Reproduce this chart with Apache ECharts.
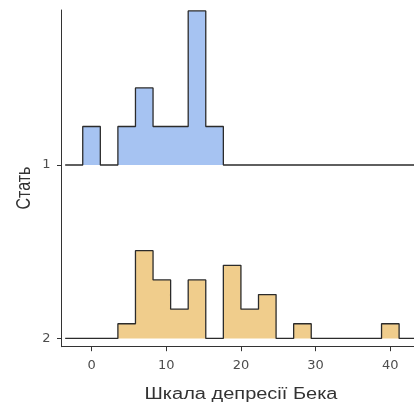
<!DOCTYPE html>
<html>
<head>
<meta charset="utf-8">
<script src="https://cdn.jsdelivr.net/npm/echarts@6/dist/echarts.min.js"></script>
<style>html,body{margin:0;padding:0;background:#fff}#c{width:414px;height:410px}</style>
</head>
<body>
<div id="c"></div>
<script>
// Data
const groups = ['1', '2'];
const binWidth = 40 / 17;              // 18 bins spanning 0..40 (centres)
const counts1 = [1,0,1,2,1,1,4,1,0,0,0,0,0,0,0,0,0,0];
const counts2 = [0,0,1,6,4,2,4,0,5,2,3,0,1,0,0,0,0,1];
const xTicks = [0, 10, 20, 30, 40];
const yTicks = [1, 2];
const fills = ['#a6c3f2', '#f0cd8c'];
const heightScale = 5.75;

function outline(counts, base) {
  const n = counts.reduce((a, b) => a + b, 0);
  const padded = [0].concat(counts, [0]);
  const pts = [];
  for (let i = 0; i < padded.length; i++) {
    const k = i - 1;
    const left = (k - 0.5) * binWidth, right = (k + 0.5) * binWidth;
    const h = padded[i] / (n * binWidth) * heightScale;
    pts.push([left, base - h]);
    pts.push([right, base - h]);
  }
  return pts;
}

const allCounts = [counts1, counts2];
const series = groups.map((g, i) => ({
  type: 'line',
  name: g,
  data: outline(allCounts[i], i + 1),
  symbol: 'none',
  lineStyle: { color: '#2b2b2b', width: 1.3 },
  areaStyle: { color: fills[i], opacity: 1, origin: i + 1 },
  clip: true,
  silent: true
}));

const chart = echarts.init(document.getElementById('c'), null, { renderer: 'canvas' });
chart.setOption({
  animation: false,
  grid: { left: 61.5, right: 0, top: 10, bottom: 63.3 },
  xAxis: {
    type: 'value', min: -4.02, max: 43.17,
    axisLine: { show: true, onZero: false, lineStyle: { color: '#333', width: 1 } },
    axisTick: { show: true, length: 4.5, customValues: xTicks, lineStyle: { color: '#333' } },
    axisLabel: { customValues: xTicks, color: '#4d4d4d', fontSize: 13, margin: 12, fontFamily: 'DejaVu Sans' },
    splitLine: { show: false }
  },
  yAxis: {
    type: 'value', inverse: true, min: 0.106, max: 2.048,
    axisLine: { show: true, onZero: false, lineStyle: { color: '#333', width: 1 } },
    axisTick: { show: true, length: 4.5, customValues: yTicks, lineStyle: { color: '#333' } },
    axisLabel: { customValues: yTicks, color: '#4d4d4d', fontSize: 13, margin: 11, fontFamily: 'DejaVu Sans',
      formatter: v => groups[Math.round(v) - 1] },
    splitLine: { show: false }
  },
  graphic: [
    { type: 'text', x: 241, y: 395, scaleX: 1.25,
      style: { text: 'Шкала депресії Бека', fontSize: 16, fill: '#333', fontFamily: 'Liberation Sans', align: 'center', verticalAlign: 'middle' } },
    { type: 'text', x: 24, y: 188, rotation: Math.PI / 2, scaleY: 1.25,
      style: { text: 'Стать', fontSize: 16, fill: '#333', fontFamily: 'Liberation Sans', align: 'center', verticalAlign: 'middle' } }
  ],
  series: series
});
</script>
</body>
</html>
